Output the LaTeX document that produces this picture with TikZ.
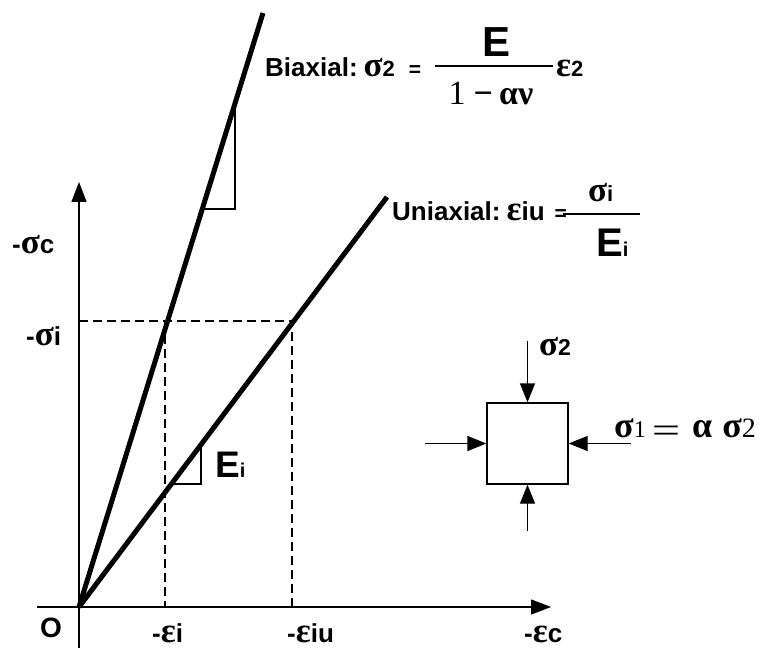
\documentclass[tikz,border=0pt]{standalone}
\usepackage{fontspec}
\usepackage{graphicx}
\setmainfont{Liberation Sans}
\newfontfamily\grkfont{Liberation Serif}
\usetikzlibrary{arrows.meta}
\newcommand{\fs}[1]{\fontsize{#1}{#1}\selectfont}
\newcommand{\gk}[1]{{\grkfont\fs{35}#1}}

\begin{document}
\begin{tikzpicture}[x=1pt, y=-1pt,
    every node/.style={inner sep=0pt, font=\bfseries\fs{26}},
    axis/.style={line width=1.3pt, -{Triangle[length=20pt, width=15pt]}},
    law/.style={line width=5pt},
    guide/.style={line width=1.2pt, dash pattern=on 9pt off 5pt},
    slope/.style={line width=1.3pt},
    load/.style={line width=1.3pt, -{Triangle[length=19pt, width=15pt]}},
    fracbar/.style={fill=black, minimum height=1.5pt, minimum width=#1},
  ]
  \useasboundingbox (0,0) rectangle (770,652);
  \coordinate (O) at (79,607);
  \coordinate (xbeg) at (37,607);
  \coordinate (xend) at (551,607);
  \coordinate (ybeg) at (79,648);
  \coordinate (yend) at (79,182);
  \coordinate (bitop) at (263,13);
  \coordinate (unitop) at (387,197);
  \coordinate (si) at (79,321);
  \coordinate (pb) at (165,321);
  \coordinate (pu) at (292,321);

  \draw[guide] (si) -- (pu) -- (pu |- O);
  \draw[guide] (pb) -- (pb |- O);
  \draw[axis] (xbeg) -- (xend);
  \draw[axis] (ybeg) -- (yend);
  \draw[law] (O) -- (bitop);
  \draw[law] (O) -- (unitop);
  \draw[slope] (202,209) -- (235,209) -- (235,103);
  \draw[slope] (170,484) -- (201,484) -- (201,443);

  \node[anchor=base west] (sigc) at (12,253) {-\gk{σ}c};
  \node[anchor=base west] (sigi) at (26,345) {-\gk{σ}i};
  \node[anchor=base west, font=\bfseries\fs{28}] (orig) at (40,637) {O};
  \node[anchor=base west] (epsi) at (152,642) {-\gk{ε}i};
  \node[anchor=base west] (epsiu) at (287,642) {-\gk{ε}iu};
  \node[anchor=base west] (epsc) at (524,642) {-\gk{ε}c};
  \node[anchor=base west, font=\bfseries\fs{37}] (modul) at (215,477) {E{\fs{20}i}};

  \node[anchor=base west] (bilbl) at (265,77) {Biaxial:\hspace{6pt}\gk{σ}{\fs{22}2}\hspace{14pt}{\fs{21}=}};
  \node[fracbar=118pt] (bibar) at (494,66) {};
  \node[anchor=base, font=\bfseries\fs{42}] (binum) at (496,57) {E};
  \node[anchor=base, font=\grkfont\fs{34}] (biden) at (491,105) {1\hspace{8pt}\textbf{−}\hspace{6pt}\textbf{αν}};
  \node[anchor=base west] (bieps) at (556,77) {\gk{ε}{\fs{22}2}};

  \node[anchor=base west] (unilbl) at (392,221) {Uniaxial:\hspace{6pt}\gk{ε}iu\hspace{10pt}{\fs{21}=}};
  \node[fracbar=77pt] (unibar) at (601,214) {};
  \node[anchor=base west] (uninum) at (588,202) {\gk{σ}{\fs{22}i}};
  \node[anchor=base west, font=\bfseries\fs{40}] (uniden) at (596,256) {E{\fs{20}i}};

  \node[draw, line width=1.3pt, minimum size=81pt] (elem) at (527.5,443.5) {};
  \coordinate (ntop) at (527.5,341);
  \coordinate (nbot) at (527.5,531);
  \coordinate (nleft) at (425,443.5);
  \coordinate (nright) at (631,443.5);
  \draw[load] (ntop) -- (elem.north);
  \draw[load] (nbot) -- (elem.south);
  \draw[load] (nleft) -- (elem.west);
  \draw[load] (nright) -- (elem.east);
  \node[anchor=base west] (sig2) at (539,355) {\gk{σ}{\fs{23}2}};
  \node[anchor=base west, font=\grkfont\fs{36}] (sig1) at (614,437) {\textbf{σ}{\fs{24}1}\hspace{6pt}\raisebox{-5pt}{\scalebox{1.4}[1]{=}}\hspace{12pt}\textbf{α}\hspace{10pt}\textbf{σ}{\fs{28}2}};
\end{tikzpicture}
\end{document}
